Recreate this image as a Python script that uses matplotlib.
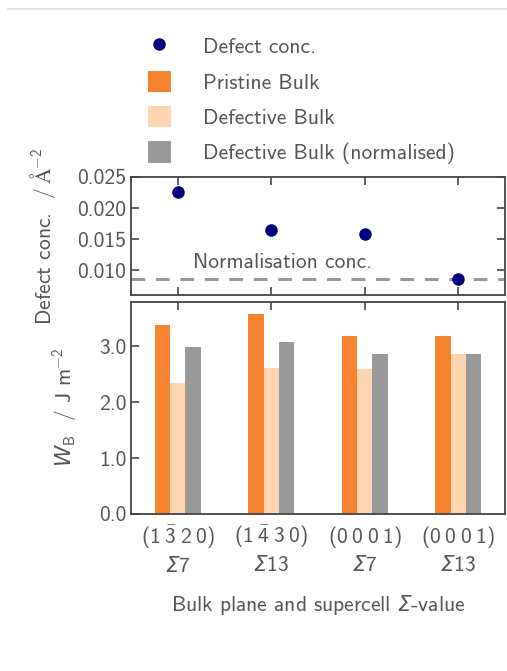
import matplotlib
matplotlib.use("Agg")
import matplotlib.pyplot as plt
from matplotlib.lines import Line2D
from matplotlib.patches import Patch
import numpy as np

categories = [r"$(1\:\bar{3}\:2\:0)$" + "\n" + r"$\mathcal{Σ}7$",
              r"$(1\:\bar{4}\:3\:0)$" + "\n" + r"$\mathcal{Σ}13$",
              r"$(0\:0\:0\:1)$" + "\n" + r"$\mathcal{Σ}7$",
              r"$(0\:0\:0\:1)$" + "\n" + r"$\mathcal{Σ}13$"]
defect_conc = [0.0225, 0.01645, 0.0158, 0.00855]
norm_conc = 0.00855
pristine = [3.39, 3.58, 3.19, 3.18]
defective = [2.34, 2.62, 2.60, 2.86]
normalised = [2.99, 3.08, 2.87, 2.86]

FS = 15.5
plt.rcParams.update({
    "font.family": ["cmss10", "DejaVu Sans"],
    "mathtext.fontset": "custom",
    "mathtext.rm": "cmss10",
    "mathtext.sf": "cmss10",
    "mathtext.it": "DejaVu Sans:italic",
    "mathtext.cal": "DejaVu Sans:italic",
    "mathtext.bf": "DejaVu Sans:bold",
    "axes.unicode_minus": False,
    "axes.formatter.use_mathtext": False,
    "font.size": FS,
    "text.color": "#555555",
    "xtick.color": "#444444",
    "ytick.color": "#444444",
    "xtick.labelcolor": "#555555",
    "ytick.labelcolor": "#555555",
    "axes.labelcolor": "#555555",
    "axes.edgecolor": "#444444",
    "axes.linewidth": 1.3,
    "xtick.direction": "in",
    "ytick.direction": "in",
    "xtick.major.size": 5.5,
    "ytick.major.size": 5.5,
    "xtick.major.width": 1.2,
    "ytick.major.width": 1.2,
})

c_pristine = "#F5832F"
c_defective = "#FED5B0"
c_norm = "#999999"
c_dot = "#000080"

fig = plt.figure(figsize=(5.07, 6.71), dpi=100)
ax1 = fig.add_axes([0.2584, 0.5604, 0.7377, 0.1759])
ax2 = fig.add_axes([0.2584, 0.2340, 0.7377, 0.3164])

x = np.arange(len(categories))

ax1.axhline(norm_conc, color="#999999", lw=2.2, ls=(0, (4.5, 3.5)), zorder=1)
ax1.plot(x, defect_conc, "o", color=c_dot, ms=8, zorder=3)
ax1.text(1.12, norm_conc + 0.0011, "Normalisation conc.", ha="center", va="bottom",
         fontsize=FS, color="#555555")
ax1.set_ylim(0.006, 0.025)
ax1.set_yticks([0.010, 0.015, 0.020, 0.025])
ax1.set_yticklabels(["0.010", "0.015", "0.020", "0.025"])
ax1.set_xlim(-0.5, 3.5)
ax1.set_xticks(x)
ax1.tick_params(axis="x", labelbottom=False, top=True, bottom=True)
ax1.tick_params(axis="y", right=True)
ax1.set_ylabel(r"Defect conc.  $/\,\mathrm{\AA}^{-2}$", labelpad=14)

w = 0.165
ax2.bar(x - w, pristine, w, color=c_pristine, zorder=2)
ax2.bar(x, defective, w, color=c_defective, zorder=2)
ax2.bar(x + w, normalised, w, color=c_norm, zorder=2)
ax2.set_xlim(-0.5, 3.5)
ax2.set_ylim(0, 3.8)
ax2.set_yticks([0, 1, 2, 3])
ax2.set_yticklabels(["0.0", "1.0", "2.0", "3.0"])
ax2.set_xticks(x)
ax2.set_xticklabels(categories, linespacing=1.3)
ax2.tick_params(axis="x", top=True, bottom=True, pad=7)
ax2.tick_params(axis="y", right=False)
ax2.set_ylabel(r"$W_\mathrm{B}$  / J m$^{-2}$", labelpad=14)
ax2.set_xlabel(r"Bulk plane and supercell $\mathcal{Σ}$-value", labelpad=12)

fig.align_ylabels([ax1, ax2])

handles = [
    Line2D([], [], ls="none", marker="o", color=c_dot, ms=8),
    Patch(facecolor=c_pristine),
    Patch(facecolor=c_defective),
    Patch(facecolor=c_norm),
]
labels = ["Defect conc.", "Pristine Bulk", "Defective Bulk", "Defective Bulk (normalised)"]
fig.legend(handles, labels, loc="upper left", bbox_to_anchor=(0.275, 0.96),
           frameon=False, fontsize=FS, handlelength=1.05, handleheight=1.15,
           labelspacing=0.62, handletextpad=1.5, borderaxespad=0)

fig.add_artist(Line2D([0.016, 1.0], [0.987, 0.987], color="#dddddd", lw=1.2))

fig.savefig("out.png", dpi=100)
